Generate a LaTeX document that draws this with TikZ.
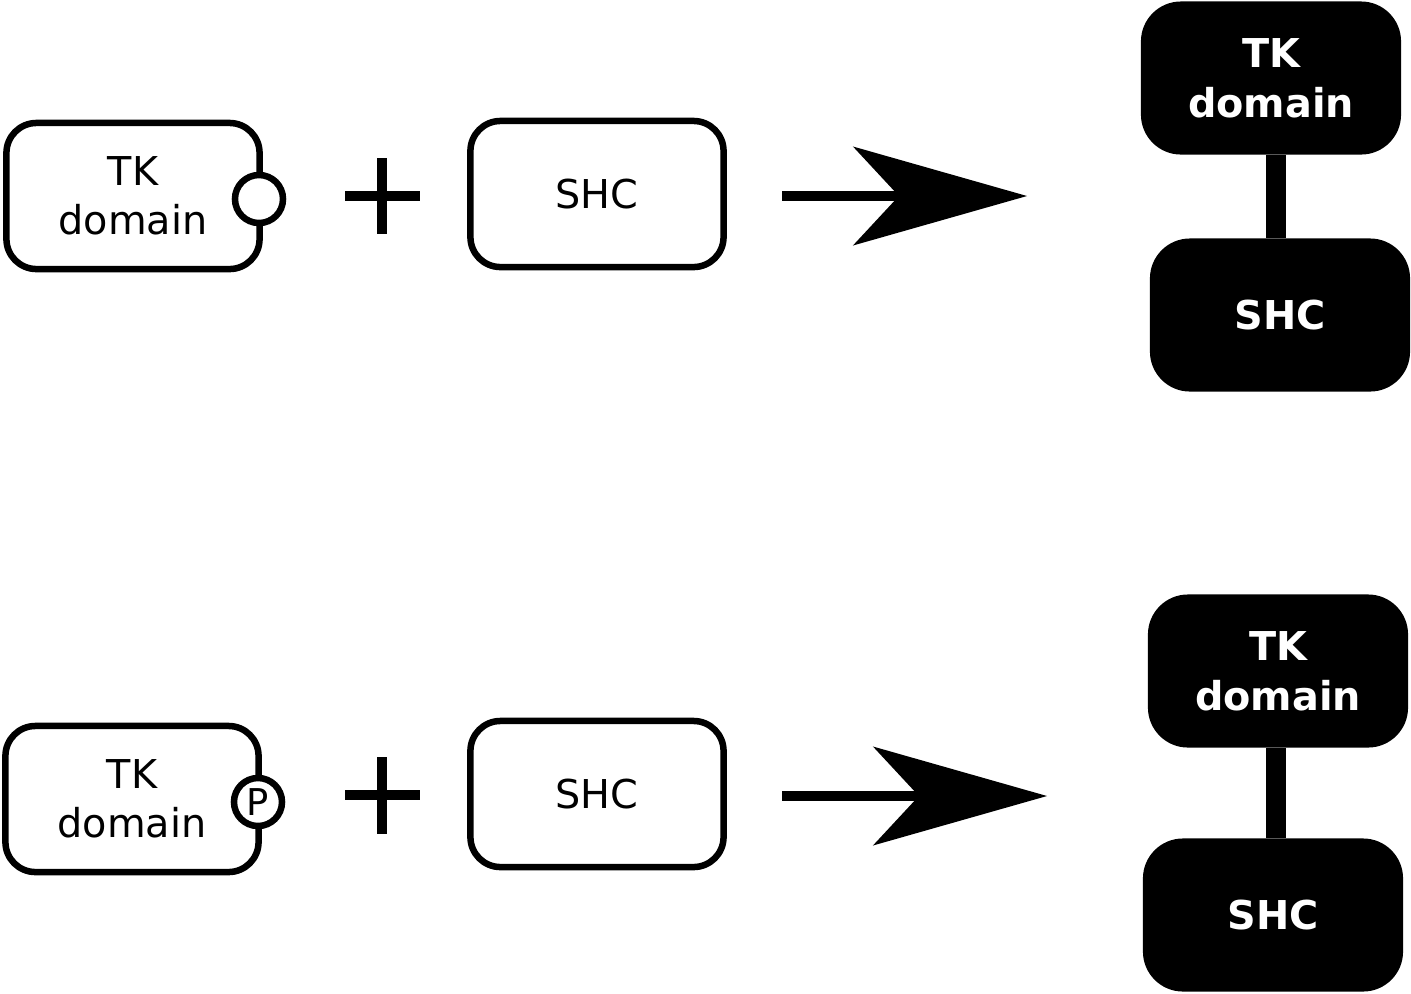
\documentclass[tikz,border=0pt]{standalone}
\usepackage{fontspec}
\setmainfont{DejaVu Sans}
\usetikzlibrary{arrows.meta}
\tikzset{
  protbox/.style={draw,line width=0.065cm,rounded corners=0.3cm,fill=white,minimum width=2.53cm,minimum height=1.46cm,align=center,font=\fontsize{11.3}{13.9}\selectfont},
  site/.style={draw,circle,line width=0.065cm,fill=white,minimum size=0.48cm,inner sep=0pt,font=\fontsize{10.5}{12}\selectfont},
  cplx/.style={fill=black,text=white,rounded corners=0.4cm,minimum width=2.6cm,minimum height=1.53cm,align=center,font=\fontsize{11.3}{14.2}\selectfont\bfseries},
  plus/.style={line width=0.1cm},
  react/.style={line width=0.1cm,-{Stealth[length=1.74cm,width=0.99cm,inset=0.46cm,line width=0pt]}},
  bond/.style={line width=0.2cm}
}
\begin{document}
\begin{tikzpicture}[x=0.01cm,y=-0.01cm]
\useasboundingbox (0,0) rectangle (1411,993);
\node[protbox] (tk1) at (133,196) {TK\\domain};
\node[site] (s1) at (259,199) {};
\draw[plus] (345,196) -- (420,196) (382,158) -- (382,234);
\node[protbox] (shc1) at (597,194) {SHC};
\coordinate (r1s) at (782,196);
\coordinate (r1e) at (1027,196);
\draw[react] (r1s) -- (r1e);
\node[cplx] (tkb1) at (1271,78) {TK\\domain};
\node[cplx] (shcb1) at (1280,315) {SHC};
\coordinate (bar1) at (1276,0);
\draw[bond] (tkb1.south -| bar1) -- (shcb1.north -| bar1);
\node[protbox] (tk2) at (132,799) {TK\\domain};
\node[site] (s2) at (258,802) {P};
\draw[plus] (345,795) -- (420,795) (382,757) -- (382,834);
\node[protbox] (shc2) at (597,794) {SHC};
\coordinate (r2s) at (782,796);
\coordinate (r2e) at (1047,796);
\draw[react] (r2s) -- (r2e);
\node[cplx] (tkb2) at (1278,671) {TK\\domain};
\node[cplx] (shcb2) at (1273,915) {SHC};
\coordinate (bar2) at (1276,0);
\draw[bond] (tkb2.south -| bar2) -- (shcb2.north -| bar2);
\end{tikzpicture}
\end{document}
